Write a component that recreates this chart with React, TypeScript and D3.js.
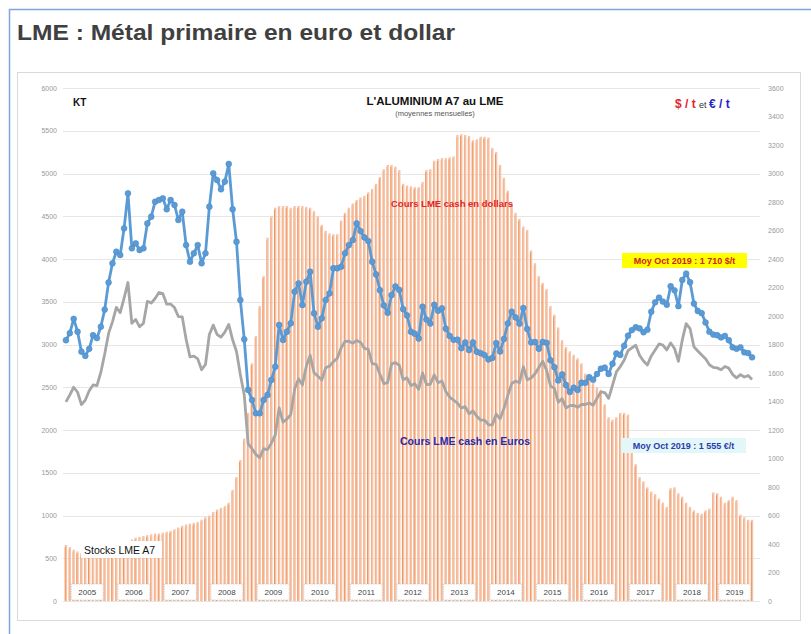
import { useEffect, useRef } from 'react'
import * as d3 from 'd3'

// LME aluminium, monthly averages Jan 2005 -> Oct 2019
const years = ['2005', '2006', '2007', '2008', '2009', '2010', '2011', '2012', '2013', '2014', '2015', '2016', '2017', '2018', '2019']

// stocks LME A7 (KT)
const stocksKt = [
  655, 630, 600, 580, 560, 550, 545, 550, 560, 580, 600, 620,
  640, 650, 660, 680, 700, 720, 740, 750, 760, 770, 780, 790,
  790, 800, 810, 820, 840, 860, 880, 895, 905, 915, 925, 950,
  980, 1000, 1040, 1070, 1090, 1110, 1150, 1300, 1450, 1650, 1900, 2200,
  2780, 3100, 3450, 3800, 4250, 4500, 4600, 4620, 4620, 4620, 4600, 4620,
  4620, 4620, 4610, 4600, 4560, 4500, 4400, 4330, 4300, 4290, 4290, 4450,
  4540, 4600, 4650, 4690, 4720, 4740, 4780, 4820, 4880, 4960, 5050, 5100,
  5100, 5080, 5040, 4880, 4860, 4850, 4840, 4840, 4900, 5040, 5050, 5150,
  5170, 5180, 5180, 5190, 5200, 5450, 5460, 5450, 5440, 5390, 5400, 5430,
  5430, 5420, 5300, 5250, 5100, 4950, 4800, 4650, 4540, 4470, 4380, 4340,
  4100, 3950, 3800, 3720, 3650, 3450, 3350, 3200, 3050, 2970, 2920, 2880,
  2840, 2780, 2660, 2600, 2550, 2500, 2470, 2300, 2150, 2120, 2150, 2200,
  2200, 2180, 1750, 1600, 1450, 1400, 1330, 1280, 1250, 1200, 1150, 1100,
  1320, 1330, 1260, 1220, 1150, 1100, 1060, 1030, 1020, 1060, 1080, 1270,
  1260, 1220, 1150, 1180, 1220, 1180, 1010, 980, 950, 950,
]

// cours LME cash en dollars ($/t)
const usdPrice = [
  1830, 1880, 1980, 1890, 1750, 1720, 1770, 1865, 1845, 1925, 2045, 2235,
  2370, 2451, 2428, 2615, 2861, 2475, 2510, 2463, 2475, 2650, 2697, 2802,
  2814, 2826, 2749, 2814, 2779, 2674, 2732, 2498, 2381, 2440, 2498, 2370,
  2440, 2767, 3001, 2954, 2889, 2943, 3067, 2749, 2521, 2112, 1836, 1481,
  1411, 1317, 1317, 1411, 1446, 1551, 1644, 1937, 1832, 1890, 1949, 2171,
  2229, 2077, 2241, 2311, 2019, 1925, 1984, 2112, 2159, 2335, 2335, 2346,
  2440, 2498, 2533, 2650, 2596, 2551, 2526, 2381, 2292, 2181, 2075, 2022,
  2147, 2208, 2183, 2048, 2004, 1890, 1876, 1842, 2065, 1975, 1947, 2079,
  2037, 2054, 1911, 1860, 1833, 1834, 1774, 1814, 1761, 1814, 1749, 1739,
  1726, 1695, 1706, 1810, 1751, 1839, 1948, 2030, 1990, 1946, 2056, 1909,
  1815, 1818, 1770, 1818, 1812, 1690, 1641, 1548, 1590, 1516, 1467, 1497,
  1481, 1532, 1531, 1571, 1553, 1593, 1630, 1638, 1593, 1665, 1737, 1727,
  1791, 1862, 1901, 1921, 1913, 1886, 1904, 2030, 2096, 2129, 2101, 2079,
  2209, 2180, 2069, 2253, 2298, 2237, 2087, 2035, 2020, 1955, 1890, 1870,
  1865, 1850, 1860, 1830, 1780, 1770, 1780, 1745, 1740, 1710,
]

// cours LME cash en euros (€/t)
const eurPrice = [
  1397, 1446, 1500, 1465, 1378, 1410, 1475, 1516, 1512, 1604, 1733, 1878,
  1959, 2060, 2023, 2126, 2235, 1949, 1976, 1924, 1949, 2103, 2091, 2123,
  2165, 2157, 2083, 2084, 2059, 1996, 1994, 1837, 1713, 1718, 1699, 1623,
  1660, 1870, 1936, 1870, 1852, 1887, 1941, 1833, 1751, 1588, 1446, 1105,
  1069, 1029, 1005, 1069, 1063, 1108, 1166, 1355, 1255, 1277, 1308, 1487,
  1559, 1516, 1648, 1725, 1602, 1578, 1550, 1637, 1648, 1680, 1704, 1777,
  1821, 1823, 1809, 1828, 1815, 1772, 1766, 1665, 1661, 1592, 1526, 1532,
  1664, 1673, 1654, 1552, 1566, 1512, 1525, 1485, 1601, 1519, 1521, 1587,
  1532, 1544, 1470, 1431, 1410, 1389, 1354, 1364, 1314, 1334, 1296, 1269,
  1269, 1237, 1236, 1312, 1278, 1352, 1443, 1526, 1543, 1532, 1645, 1552,
  1565, 1595, 1639, 1683, 1618, 1509, 1492, 1395, 1420, 1354, 1371, 1373,
  1359, 1380, 1379, 1390, 1374, 1422, 1468, 1463, 1422, 1514, 1608, 1645,
  1690, 1757, 1777, 1795, 1723, 1684, 1656, 1720, 1761, 1804, 1796, 1762,
  1811, 1772, 1682, 1832, 1947, 1912, 1784, 1754, 1726, 1700, 1658, 1640,
  1636, 1623, 1646, 1634, 1589, 1566, 1589, 1572, 1582, 1555,
]

const leftTicks = d3.range(0, 6001, 500)
const rightTicks = d3.range(0, 3601, 200)

const W = 811
const H = 634
const FONT = 'Liberation Sans, Arial, sans-serif'

const App = () => {
  const svgRef = useRef(null)

  useEffect(() => {
    const svg = d3.select(svgRef.current)
    svg.selectAll('*').remove()

    const months = stocksKt.map((_, i) => i)
    const x = d3.scaleBand<number>().domain(months).range([64, 754]).padding(0)
    const yL = d3.scaleLinear().domain([0, 6000]).range([601, 88])
    const yR = d3.scaleLinear().domain([0, 3600]).range([601, 88])
    const cx = (i: number) => (x(i) as number) + x.bandwidth() / 2

    // frames
    svg.append('rect').attr('x', 9.5).attr('y', 9.5).attr('width', 820).attr('height', 640)
      .attr('fill', '#fff').attr('stroke', '#7fa7d6').attr('stroke-width', 1.5)
    svg.append('text').attr('x', 17).attr('y', 40).attr('font-family', 'Liberation Sans Narrow, Arial Narrow, Liberation Sans, Arial')
      .attr('font-size', 22).attr('font-weight', 'bold').attr('fill', '#404040')
      .attr('textLength', 438).attr('lengthAdjust', 'spacingAndGlyphs')
      .text('LME : Métal primaire en euro et dollar')
    svg.append('rect').attr('x', 17.5).attr('y', 72.5).attr('width', 783).attr('height', 548)
      .attr('fill', '#fff').attr('stroke', '#d9d9d9')

    // grid + axes labels
    svg.append('g').selectAll('line').data(leftTicks).join('line')
      .attr('x1', 63).attr('x2', 760)
      .attr('y1', d => Math.round(yL(d)) + 0.5).attr('y2', d => Math.round(yL(d)) + 0.5)
      .attr('stroke', '#e6e6e6').attr('stroke-width', 1)

    svg.append('g').selectAll('text').data(leftTicks).join('text')
      .attr('x', 57).attr('y', d => yL(d) + 2.5).attr('text-anchor', 'end')
      .attr('font-family', FONT).attr('font-size', 7).attr('fill', '#999')
      .text(d => d)
    svg.append('g').selectAll('text').data(rightTicks).join('text')
      .attr('x', 768).attr('y', d => yR(d) + 2.5)
      .attr('font-family', FONT).attr('font-size', 7).attr('fill', '#999')
      .text(d => d)

    // stock bars
    const bw = x.bandwidth() * 0.6
    svg.append('g').selectAll('rect').data(stocksKt).join('rect')
      .attr('x', (_, i) => cx(i) - bw / 2)
      .attr('y', d => yL(d))
      .attr('width', bw)
      .attr('height', d => yL(0) - yL(d))
      .attr('fill', '#f6c4a9')
    svg.append('g').selectAll('line').data(stocksKt).join('line')
      .attr('x1', (_, i) => cx(i) - bw / 2 + 0.4).attr('x2', (_, i) => cx(i) - bw / 2 + 0.4)
      .attr('y1', d => yL(d) + 2).attr('y2', yL(0))
      .attr('stroke', (_, i) => (i % 3 === 0 ? '#f07a30' : '#f2a77c'))
      .attr('stroke-width', 0.7)

    // year boxes
    const yearCenter = (k: number) => {
      const first = k * 12
      const last = Math.min(first + 11, stocksKt.length - 1)
      return (cx(first) + cx(last)) / 2
    }
    const yb = svg.append('g').selectAll('g').data(years).join('g')
      .attr('transform', (_, k) => `translate(${yearCenter(k)},592)`)
    yb.append('rect').attr('x', -16).attr('y', -8).attr('width', 32).attr('height', 16)
      .attr('fill', '#fff').attr('stroke', '#bbb').attr('stroke-width', 0.6).attr('stroke-dasharray', '1.5,1')
    yb.append('text').attr('y', 3).attr('text-anchor', 'middle')
      .attr('font-family', FONT).attr('font-size', 8).attr('fill', '#444').text(d => d)

    // price lines
    const lineR = d3.line<number>().x((_, i) => cx(i)).y(d => yR(d))
    svg.append('path').attr('d', lineR(eurPrice) as string)
      .attr('fill', 'none').attr('stroke', '#a6a6a6').attr('stroke-width', 2.8).attr('stroke-linejoin', 'round')
    svg.append('path').attr('d', lineR(usdPrice) as string)
      .attr('fill', 'none').attr('stroke', '#5b9bd5').attr('stroke-width', 2.8).attr('stroke-linejoin', 'round')
    svg.append('g').selectAll('circle').data(usdPrice).join('circle')
      .attr('cx', (_, i) => cx(i)).attr('cy', d => yR(d)).attr('r', 2.9)
      .attr('fill', '#5b9bd5').attr('stroke', '#4a8ccb').attr('stroke-width', 0.6)

    // labels
    const txt = (xp: number, yp: number, s: string, size: number, fill: string, weight = 'bold', anchor = 'start') =>
      svg.append('text').attr('x', xp).attr('y', yp).attr('font-family', FONT).attr('font-size', size)
        .attr('font-weight', weight).attr('fill', fill).attr('text-anchor', anchor).text(s)

    txt(73, 106, 'KT', 10, '#111')
    txt(435, 105, "L'ALUMINIUM A7 au LME", 11.5, '#111', 'bold', 'middle')
    txt(435, 116, '(moyennes mensuelles)', 7.5, '#555', 'normal', 'middle')

    const unit = svg.append('text').attr('x', 675).attr('y', 108).attr('font-family', FONT).attr('font-weight', 'bold')
    unit.append('tspan').attr('font-size', 12).attr('fill', '#e0262b').text('$ / t ')
    unit.append('tspan').attr('font-size', 9).attr('fill', '#333').attr('font-weight', 'normal').text('et ')
    unit.append('tspan').attr('font-size', 12).attr('fill', '#2323c8').text('€ / t')

    txt(391, 207, 'Cours LME cash en dollars', 9.5, '#e0262b')
    txt(400, 445, 'Cours LME cash en Euros', 10.5, '#2b2ba6')

    svg.append('rect').attr('x', 622).attr('y', 253).attr('width', 125).attr('height', 15).attr('fill', '#ffff00')
    txt(684.5, 264, 'Moy Oct 2019 : 1 710 $/t', 9, '#d0201e', 'bold', 'middle')
    svg.append('rect').attr('x', 621).attr('y', 438).attr('width', 125).attr('height', 15).attr('fill', '#e4f7f8')
    txt(683.5, 449, 'Moy Oct 2019 : 1 555 €/t', 9, '#2a3ab0', 'bold', 'middle')

    svg.append('rect').attr('x', 81).attr('y', 541).attr('width', 81).attr('height', 17).attr('fill', '#fff')
    txt(84, 554, 'Stocks LME A7', 10.5, '#111', 'normal')
  }, [])

  return <svg ref={svgRef} width={W} height={H} style={{ position: 'absolute', left: 0, top: 0, background: '#fff' }}></svg>
}

export default App
